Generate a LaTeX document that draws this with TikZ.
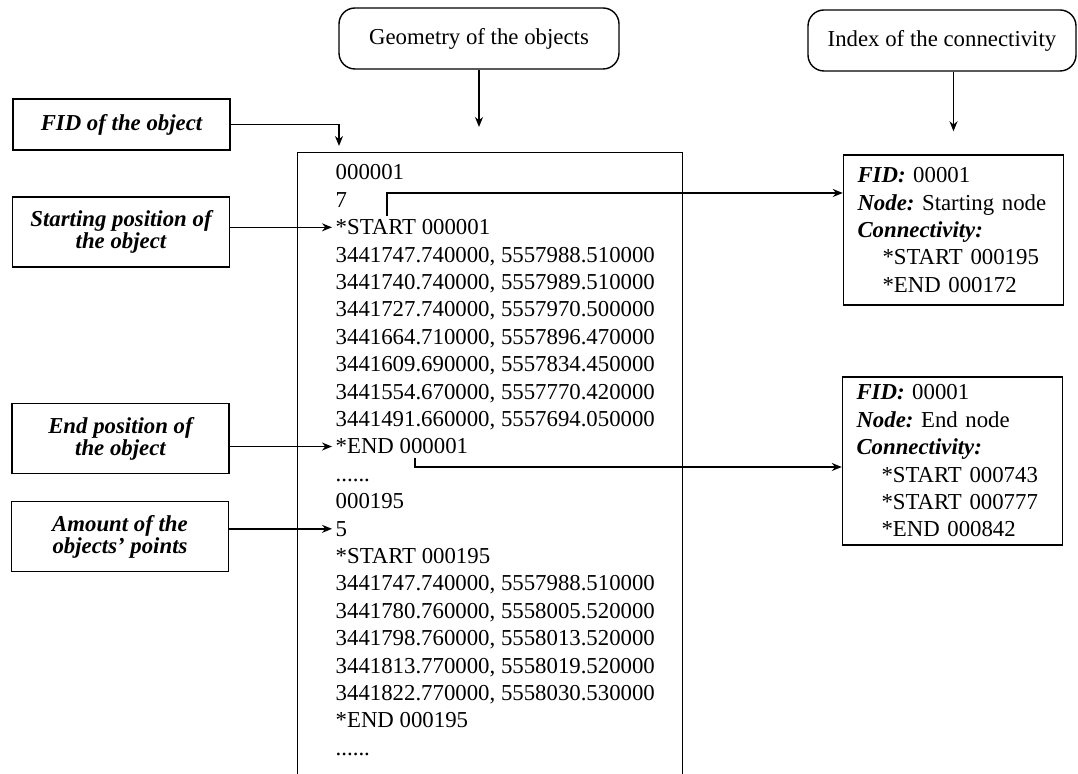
\documentclass[tikz,border=0pt]{standalone}
\usepackage{fontspec}
\setmainfont{Liberation Serif}
\usetikzlibrary{arrows.meta}
\newcommand\sixdots{......}
\begin{document}
\begin{tikzpicture}[x=0.5pt, y=-0.5pt, line width=0.7pt,
  font=\fontsize{11.4pt}{13.7pt}\selectfont\frenchspacing,
  >={Stealth[length=5pt,width=4pt]},
  title/.style={draw, rounded corners=8pt, minimum width=140pt, minimum height=30.5pt},
  lbl/.style={draw, minimum width=108.5pt, minimum height=35pt, align=center,
    font=\fontsize{11.4pt}{11pt}\selectfont\bfseries\itshape},
  idx/.style={draw, text width=96pt, inner xsep=7pt, align=left},
  row/.style={anchor=base west, inner sep=1.5pt}]
\clip (0,0) rectangle (1078,774);
\node[title] (geo) at (479,38.5) {Geometry of the objects};
\node[title, minimum width=134pt] (con) at (942,40.5) {Index of the connectivity};
\node[lbl, minimum height=25.5pt] (fid) at (121.5,124.5) {FID of the object};
\node[lbl] (spos) at (121,232) {Starting position of\\the object};
\node[lbl] (epos) at (120.5,438.5) {End position of\\the object};
\node[lbl] (amt) at (120,536.5) {Amount of the\\objects' points};
\node[draw, anchor=north west, minimum width=192.5pt, minimum height=330pt, inner sep=0pt] (list) at (297,152) {};
\foreach \t [count=\i] in {000001, 7, *START 000001,
    {3441747.740000, 5557988.510000}, {3441740.740000, 5557989.510000},
    {3441727.740000, 5557970.500000}, {3441664.710000, 5557896.470000},
    {3441609.690000, 5557834.450000}, {3441554.670000, 5557770.420000},
    {3441491.660000, 5557694.050000}, *END 000001, \sixdots, 000195, 5,
    *START 000195, {3441747.740000, 5557988.510000},
    {3441780.760000, 5558005.520000}, {3441798.760000, 5558013.520000},
    {3441813.770000, 5558019.520000}, {3441822.770000, 5558030.530000},
    *END 000195, \sixdots}
  \node[row] (row\i) at (332,{180+(\i-1)*27.4}) {\t};
\node[idx, minimum height=75pt] (ns) at (953.5,230)
{\textbf{\textit{FID:}} 00001\\\textbf{\textit{Node:}} Starting node\\\textbf{\textit{Connectivity:}}\\
\hspace*{12.5pt}*START 000195\\\hspace*{12.5pt}*END 000172};
\node[idx, minimum height=84pt] (ne) at (952.5,461)
{\textbf{\textit{FID:}} 00001\\\textbf{\textit{Node:}} End node\\\textbf{\textit{Connectivity:}}\\
\hspace*{12.5pt}*START 000743\\\hspace*{12.5pt}*START 000777\\\hspace*{12.5pt}*END 000842};
\draw[->, shorten >=12.5pt] (geo) -- (geo.south |- list.north);
\draw[->, shorten >=11.5pt] (con.south -| ns.north) -- (ns.north);
\draw[->, shorten >=3pt] (fid.east) -| ([xshift=21pt]list.north west);
\draw[->] (row3.west -| spos.east) -- (row3.west);
\draw[->] (row11.west -| epos.east) -- (row11.west);
\draw[->] (row14.west -| amt.east) -- (row14.west);
\draw[->] ([xshift=27.5pt]row3.north west) |- ([yshift=18.5pt]ns.west);
\draw[->] ([xshift=41.5pt]row11.south west) |- ([yshift=-3pt]ne.west);
\end{tikzpicture}
\end{document}
